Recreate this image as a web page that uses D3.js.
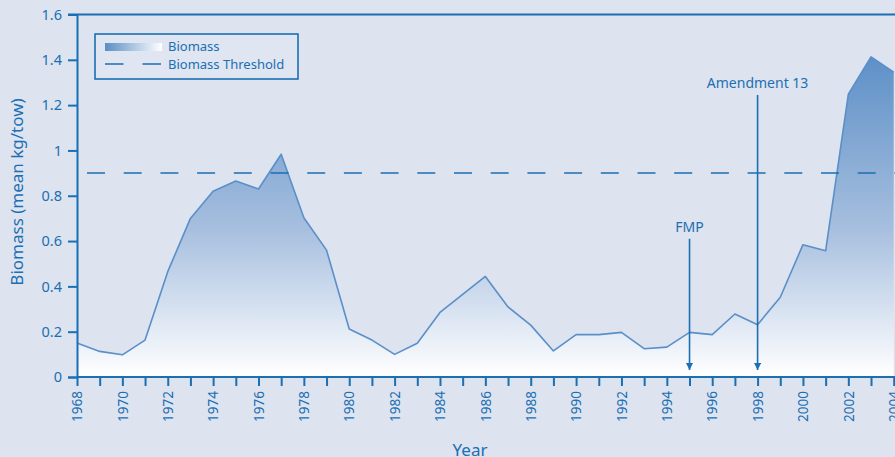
<!DOCTYPE html>
<html>
<head>
<meta charset="utf-8">
<script src="https://cdnjs.cloudflare.com/ajax/libs/d3/7.8.5/d3.min.js"></script>
<style>
    html, body { margin: 0; padding: 0; background: #dde3ef; overflow: hidden; }
    svg { display: block; font-family: "Noto Sans", "Open Sans", sans-serif; }
</style>
</head>
<body>
<div id="chart"></div>
<script>
// values
var years = [1968, 1969, 1970, 1971, 1972, 1973, 1974, 1975, 1976, 1977,
             1978, 1979, 1980, 1981, 1982, 1983, 1984, 1985, 1986, 1987,
             1988, 1989, 1990, 1991, 1992, 1993, 1994, 1995, 1996, 1997,
             1998, 1999, 2000, 2001, 2002, 2003, 2004];
var biomass = [0.15, 0.113, 0.098, 0.163, 0.465, 0.70, 0.82, 0.865, 0.83, 0.983,
               0.703, 0.56, 0.212, 0.163, 0.10, 0.149, 0.285, 0.365, 0.444, 0.309,
               0.229, 0.115, 0.187, 0.187, 0.197, 0.125, 0.132, 0.197, 0.187, 0.278,
               0.231, 0.352, 0.584, 0.557, 1.248, 1.413, 1.345];
var threshold = 0.9;
var yTicks = [0, 0.2, 0.4, 0.6, 0.8, 1, 1.2, 1.4, 1.6];
var xTicks = d3.range(1968, 2005, 2);
var events = [
    { year: 1995, label: "FMP", top: 0.61 },
    { year: 1998, label: "Amendment 13", top: 1.245 }
];
var legendItems = ["Biomass", "Biomass Threshold"];

var W = 895, H = 457;
var blue = "#1b6fb3";
var lineBlue = "#5b8fc8";

var x = d3.scaleLinear().domain([1968, 2004]).range([77, 893.7]);
var y = d3.scaleLinear().domain([0, 1.6]).range([377, 14.5]);

var svg = d3.select("#chart").append("svg")
    .attr("width", W).attr("height", H);

var defs = svg.append("defs");
var grad = defs.append("linearGradient").attr("id", "areaGrad")
    .attr("gradientUnits", "userSpaceOnUse")
    .attr("x1", 0).attr("x2", 0)
    .attr("y1", y(1.45)).attr("y2", y(0));
grad.append("stop").attr("offset", "0%").attr("stop-color", "#5a8ec6");
grad.append("stop").attr("offset", "55%").attr("stop-color", "#a7bfdf");
grad.append("stop").attr("offset", "100%").attr("stop-color", "#ffffff");

var lgrad = defs.append("linearGradient").attr("id", "legGrad");
lgrad.append("stop").attr("offset", "0%").attr("stop-color", "#5a8ec6");
lgrad.append("stop").attr("offset", "100%").attr("stop-color", "#ffffff");

defs.append("marker").attr("id", "arrow")
    .attr("viewBox", "0 0 10 10").attr("refX", 10).attr("refY", 5)
    .attr("markerWidth", 4.5).attr("markerHeight", 4.5)
    .attr("markerUnits", "strokeWidth")
    .attr("orient", "auto")
    .append("path").attr("d", "M0,0L10,5L0,10Z").attr("fill", blue);

var series = years.map(function(yr, i) { return { year: yr, v: biomass[i] }; });

// filled area under the biomass line
svg.append("path")
    .datum(series)
    .attr("d", d3.area()
        .x(function(d) { return x(d.year); })
        .y0(y(0))
        .y1(function(d) { return y(d.v); }))
    .attr("fill", "url(#areaGrad)");

svg.append("path")
    .datum(series)
    .attr("d", d3.line()
        .x(function(d) { return x(d.year); })
        .y(function(d) { return y(d.v); }))
    .attr("fill", "none")
    .attr("stroke", lineBlue)
    .attr("stroke-width", 1.6)
    .attr("stroke-linejoin", "round");

// threshold
svg.append("line")
    .attr("x1", x(1968)).attr("x2", W)
    .attr("y1", y(threshold)).attr("y2", y(threshold))
    .attr("stroke", blue).attr("stroke-width", 1.5)
    .attr("stroke-dasharray", "18,18.7")
    .attr("stroke-dashoffset", 26.7);

// axes
var yAxis = svg.append("g")
    .attr("transform", "translate(" + x(1968) + ",0)")
    .call(d3.axisLeft(y).tickValues(yTicks).tickSize(9).tickPadding(6)
        .tickFormat(function(d) { return d3.format("")(+d.toFixed(1)); }));

var xAxis = svg.append("g")
    .attr("transform", "translate(0," + y(0) + ")")
    .call(d3.axisBottom(x).ticks(36).tickSize(9).tickFormat(function(d) {
        return xTicks.indexOf(d) >= 0 ? d : "";
    }));

[yAxis, xAxis].forEach(function(g) {
    g.select(".domain").attr("stroke", blue).attr("stroke-width", 2);
    g.selectAll(".tick line").attr("stroke", blue).attr("stroke-width", 2);
    g.selectAll("text").attr("fill", blue).attr("font-family", "Noto Sans, sans-serif");
});
yAxis.selectAll("text").attr("font-size", 14.5);
xAxis.selectAll(".domain").attr("d", "M" + x(1968) + ",0H" + W);
xAxis.selectAll("text")
    .attr("font-size", 13.5)
    .attr("transform", "rotate(-90)")
    .attr("text-anchor", "end")
    .attr("x", -14).attr("y", 0).attr("dy", "0.35em");

// top border
svg.append("line")
    .attr("x1", x(1968) - 9).attr("x2", W)
    .attr("y1", y(1.6)).attr("y2", y(1.6))
    .attr("stroke", blue).attr("stroke-width", 2);

// event markers
events.forEach(function(e) {
    svg.append("line")
        .attr("x1", x(e.year)).attr("x2", x(e.year))
        .attr("y1", y(e.top)).attr("y2", 370)
        .attr("stroke", blue).attr("stroke-width", 1.6)
        .attr("marker-end", "url(#arrow)");
    svg.append("text")
        .attr("x", x(e.year)).attr("y", y(e.top) - 7)
        .attr("text-anchor", "middle")
        .attr("fill", blue).attr("font-size", 14)
        .text(e.label);
});

// axis titles
svg.append("text")
    .attr("x", 470).attr("y", 456)
    .attr("text-anchor", "middle")
    .attr("fill", blue).attr("font-size", 17)
    .text("Year");
svg.append("text")
    .attr("transform", "translate(23,192) rotate(-90)")
    .attr("text-anchor", "middle")
    .attr("fill", blue).attr("font-size", 17)
    .text("Biomass (mean kg/tow)");

// legend
var leg = svg.append("g");
leg.append("rect")
    .attr("x", 95).attr("y", 34).attr("width", 203).attr("height", 45)
    .attr("fill", "#dfe5f1").attr("stroke", blue).attr("stroke-width", 1.6);
leg.append("rect")
    .attr("x", 105).attr("y", 43).attr("width", 57).attr("height", 8)
    .attr("fill", "url(#legGrad)");
leg.append("line")
    .attr("x1", 105).attr("x2", 162).attr("y1", 64).attr("y2", 64)
    .attr("stroke", blue).attr("stroke-width", 1.5)
    .attr("stroke-dasharray", "18.5,19");
leg.selectAll("text.item").data(legendItems).enter().append("text")
    .attr("class", "item")
    .attr("x", 168)
    .attr("y", function(d, i) { return 51 + i * 18; })
    .attr("fill", blue).attr("font-size", 13)
    .text(function(d) { return d; });
</script>
</body>
</html>
